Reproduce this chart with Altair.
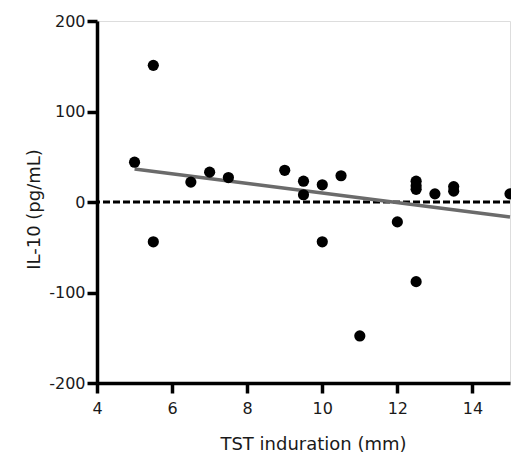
import altair as alt
import pandas as pd

# Data
tst_mm = [5, 5.5, 5.5, 6.5, 7, 7.5, 9, 9.5, 9.5, 10, 10, 10.5, 11, 12,
          12.5, 12.5, 12.5, 12.5, 13, 13.5, 13.5, 15]
il10 = [44, 151, -44, 22, 33, 27, 35, 23, 8, 19, -44, 29, -148, -22,
        -88, 23, 18, 14, 9, 17, 12, 9]

fit_x = [5, 15]
fit_y = [36.5, -16.5]

zero_line = [0]

x_ticks = [4, 6, 8, 10, 12, 14]
y_ticks = [-200, -100, 0, 100, 200]

pts = pd.DataFrame({"x": tst_mm, "y": il10})
fit = pd.DataFrame({"x": fit_x, "y": fit_y})
zero = pd.DataFrame({"y": zero_line})

FONT = "DejaVu Sans"

xs = alt.Scale(domain=[4, 15], nice=False, zero=False)
ys = alt.Scale(domain=[-200, 200], nice=False)

x_axis = alt.Axis(values=x_ticks, title="TST induration (mm)", grid=False,
                  domainColor="black", domainWidth=3.5, tickColor="black",
                  tickWidth=3.5, tickSize=10, labelFont=FONT, labelFontSize=16,
                  labelColor="#1a1a1a", labelPadding=7, titleFont=FONT,
                  titleFontSize=18, titleFontWeight="normal", titleColor="#1a1a1a",
                  titlePadding=19, titleX=216, labelFlush=False,
                  labelExpr="'' + datum.value")
y_axis = alt.Axis(values=y_ticks, title="IL-10 (pg/mL)", grid=False,
                  domainColor="black", domainWidth=3.5, tickColor="black",
                  tickWidth=3.5, tickSize=10, labelFont=FONT, labelFontSize=16,
                  labelColor="#1a1a1a", labelPadding=2, titleFont=FONT,
                  titleFontSize=18, titleFontWeight="normal", titleColor="#1a1a1a",
                  titlePadding=5, titleY=188, labelFlush=False,
                  labelExpr="'' + datum.value")

rule = alt.Chart(zero).mark_rule(color="black", strokeWidth=3,
                                 strokeDash=[7, 3]).encode(
    y=alt.Y("y:Q", scale=ys, axis=y_axis),
)

line = alt.Chart(fit).mark_line(color="#6b6b6b", strokeWidth=3.5).encode(
    x=alt.X("x:Q", scale=xs, axis=x_axis),
    y=alt.Y("y:Q", scale=ys, axis=y_axis),
)

points = alt.Chart(pts).mark_circle(color="black", opacity=1, size=125).encode(
    x=alt.X("x:Q", scale=xs, axis=x_axis),
    y=alt.Y("y:Q", scale=ys, axis=y_axis),
)

chart = alt.layer(rule, line, points).properties(
    width=413, height=362,
    autosize=alt.AutoSizeParams(type="none"),
    padding={"left": 97, "top": 21, "right": 1, "bottom": 76},
).configure_view(stroke=None).configure(background="white")

chart.save("out.html", embed_options={"renderer": "svg", "actions": False})
